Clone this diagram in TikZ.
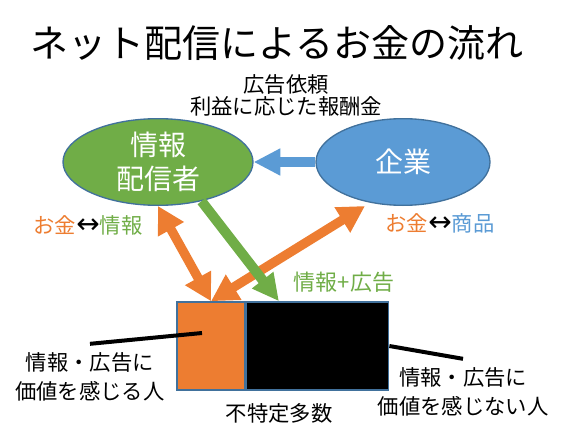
\documentclass[tikz,border=0pt]{standalone}
\usepackage{fontspec}
\newfontfamily\jpfont{Noto Sans CJK JP}
\newfontfamily\symfont{DejaVu Sans}
\usetikzlibrary{arrows.meta,positioning,shapes.geometric}
\definecolor{flowOrange}{HTML}{ED7D31}
\definecolor{flowGreen}{HTML}{70AD47}
\definecolor{flowBlue}{HTML}{5B9BD5}
\definecolor{rimBlue}{HTML}{41719C}
\newcommand{\swap}{{\symfont\fontsize{21pt}{21pt}\selectfont ↔}}

\begin{document}
\begin{tikzpicture}[x=0.75pt,y=-0.75pt, font=\jpfont,
  actor/.style={ellipse, draw=rimBlue, line width=1pt, inner sep=0pt, text=white,
    align=center, font=\jpfont\fontsize{21pt}{25.5pt}\selectfont},
  crowd/.style={rectangle, draw=rimBlue, line width=1.2pt, minimum height=66pt, inner sep=0pt},
  note/.style={align=center, font=\jpfont\fontsize{16pt}{22pt}\selectfont},
  money/.style={draw=flowOrange, line width=7pt,
    arrows={Triangle[width=21pt,length=20pt]-Triangle[width=21pt,length=20pt]}},
  info/.style={draw=flowGreen, line width=7.5pt, arrows={-Triangle[width=19pt,length=20pt]}},
  order/.style={draw=flowBlue, line width=7.5pt, arrows={-Triangle[width=19pt,length=20pt]}},
  pointer/.style={draw=black, line width=3pt}]

\useasboundingbox (0,0) rectangle (564,439);

% ===== Title =====
\node[font=\jpfont\fontsize{28.5pt}{30pt}\selectfont] (title) at (277,43) {ネット配信によるお金の流れ};
\node[align=center, font=\jpfont\fontsize{16pt}{16.5pt}\selectfont] (request) at (286,95)
  {広告依頼\\利益に応じた報酬金};

% ===== Players =====
\node[actor, fill=flowGreen, minimum width=142.5pt, minimum height=65pt] (sender) at (158,162) {情報\\配信者};
\node[actor, fill=flowBlue, minimum width=130.5pt, minimum height=65pt] (company) at (403,162) {企業};

\node[note] (senderdeal) at (88,225)
  {\textcolor{flowOrange}{お金}\swap\textcolor{flowGreen}{情報}};
\node[note] (companydeal) at (440,223)
  {\textcolor{flowOrange}{お金}\swap\textcolor{flowBlue}{商品}};
\node[note, text=flowGreen, font=\jpfont\fontsize{16.5pt}{18pt}\selectfont] (adlabel) at (344,282) {情報+広告};

% ===== Audience =====
\node[crowd, fill=flowOrange, minimum width=51pt] (fans) at (211,346) {};
\node[crowd, fill=black, minimum width=106.5pt, right=0pt of fans] (others) {};

\node[note] (fanlabel) at (90,377) {情報・広告に\\価値を感じる人};
\node[note] (otherlabel) at (463,392) {情報・広告に\\価値を感じない人};
\node[note] (crowdlabel) at (279,413) {不特定多数};

\coordinate (fanspt) at (202,333);
\draw[pointer] ([yshift=3pt]fanlabel.north) -- (fanspt);
\draw[pointer] (others.east) -- ([yshift=3pt]otherlabel.north);

% ===== Flows =====
\draw[order] (company.west) -- (sender.east);
\draw[money] (sender.south) -- (fans.north);
\draw[money] (fans.north) -- ([xshift=-28.5pt]company.south);
\draw[info] (sender.-42) -- ([xshift=-29pt]others.north);

\end{tikzpicture}
\end{document}
